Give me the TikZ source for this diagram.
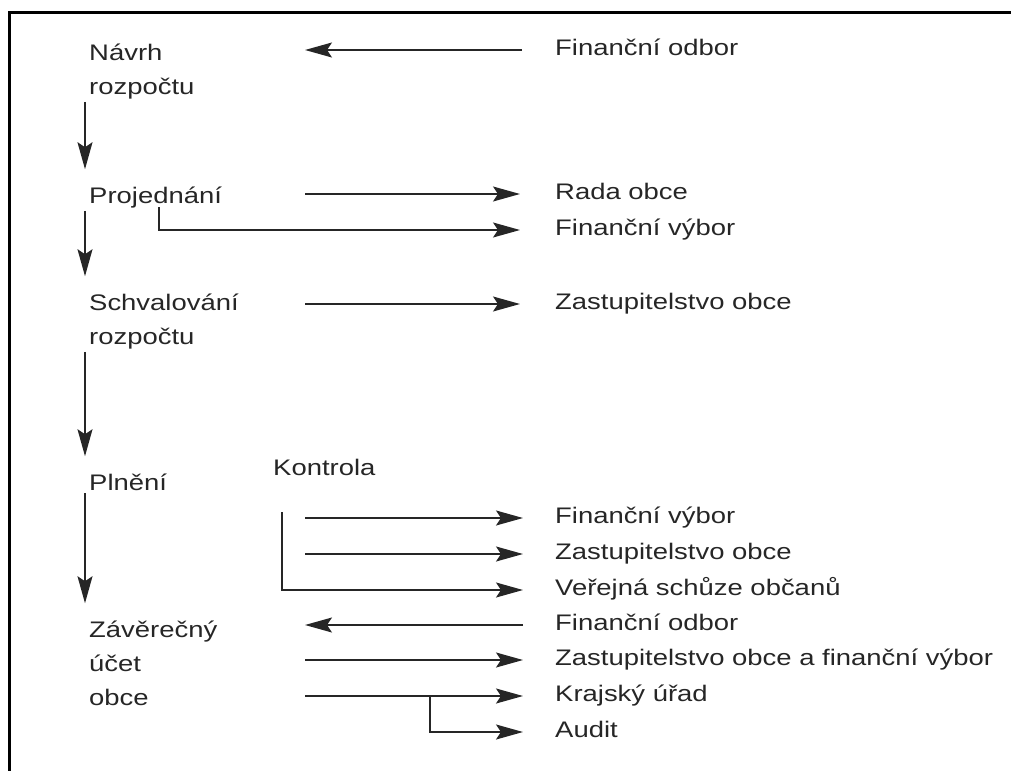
\documentclass[tikz,border=0pt]{standalone}
\usepackage{fontspec}
\setmainfont{Liberation Sans}[FakeStretch=1.22]
\usetikzlibrary{arrows.meta}

\begin{document}
\begin{tikzpicture}[
	x=1pt, y=-1pt,
	font=\fontsize{22.5}{34}\selectfont,
	StepText/.style={anchor=base west, align=left, inner xsep=4pt,
		inner ysep=3pt, text=black!85},
	SideText/.style={anchor=base west, inner sep=0pt, text height=14pt,
		text depth=4pt, text=black!85},
	Pipe/.style={line width=1.7pt, draw=black!85,
		-{Stealth[length=27pt, width=15pt, inset=5pt]}},
	]
	\useasboundingbox (0,0) rectangle (1011,771);
	\draw[line width=3pt] (1011,12) -| (9,771);

	% stages of the budget (base = last line)
	\node [StepText] (navrh) at (85,94) {Návrh\\rozpočtu};
	\node [StepText] (projed) at (85,203) {Projednání};
	\node [StepText] (schval) at (85,344) {Schvalování\\rozpočtu};
	\node [StepText] (plneni) at (85,490) {Plnění};
	\node [StepText] (zaver) at (85,705) {Závěrečný\\účet\\obce};
	\node [StepText, inner sep=0pt] (kontrola) at (273,475) {Kontrola};

	% who takes part
	\node [SideText] (odbor) at (555,55) {Finanční odbor};
	\node [SideText] (rada) at (555,199) {Rada obce};
	\node [SideText] (fvybor) at (555,235) {Finanční výbor};
	\node [SideText] (zastup) at (555,309) {Zastupitelstvo obce};
	\node [SideText] (kfvybor) at (555,523) {Finanční výbor};
	\node [SideText] (kzastup) at (555,559) {Zastupitelstvo obce};
	\node [SideText] (verejna) at (555,595) {Veřejná schůze občanů};
	\node [SideText] (zodbor) at (555,630) {Finanční odbor};
	\node [SideText] (zastfin) at (555,665) {Zastupitelstvo obce a finanční výbor};
	\node [SideText] (kraj) at (555,701) {Krajský úřad};
	\node [SideText] (audit) at (555,737) {Audit};

	\coordinate (ColA) at (305,0);
	\coordinate (Fork1) at (159,207);
	\coordinate (Fork2) at (282,512);
	\coordinate (Fork3) at (430,0);

	% down the left side
	\draw[Pipe, shorten >=14pt] (navrh.south west) -- (projed.north west);
	\draw[Pipe, shorten >=14pt] (projed.south west) -- (schval.north west);
	\draw[Pipe, shorten >=14pt] (schval.south west) -- (plneni.north west);
	\draw[Pipe, shorten >=14pt] (plneni.south west) -- (zaver.north west);

	% across
	\draw[Pipe, shorten <=33pt] (odbor.west) -- (ColA |- odbor.west);
	\draw[Pipe, shorten >=35pt] (ColA |- rada.west) -- (rada.west);
	\draw[Pipe, shorten >=35pt] (Fork1) |- (fvybor.west);
	\draw[Pipe, shorten >=35pt] (ColA |- zastup.west) -- (zastup.west);
	\draw[Pipe, shorten >=32pt] (ColA |- kfvybor.west) -- (kfvybor.west);
	\draw[Pipe, shorten >=32pt] (ColA |- kzastup.west) -- (kzastup.west);
	\draw[Pipe, shorten >=32pt] (Fork2) |- (verejna.west);
	\draw[Pipe, shorten <=32pt] (zodbor.west) -- (ColA |- zodbor.west);
	\draw[Pipe, shorten >=32pt] (ColA |- zastfin.west) -- (zastfin.west);
	\draw[Pipe, shorten >=32pt] (ColA |- kraj.west) -- (kraj.west);
	\draw[Pipe, shorten >=32pt] (Fork3 |- kraj.west) |- (audit.west);
\end{tikzpicture}
\end{document}
